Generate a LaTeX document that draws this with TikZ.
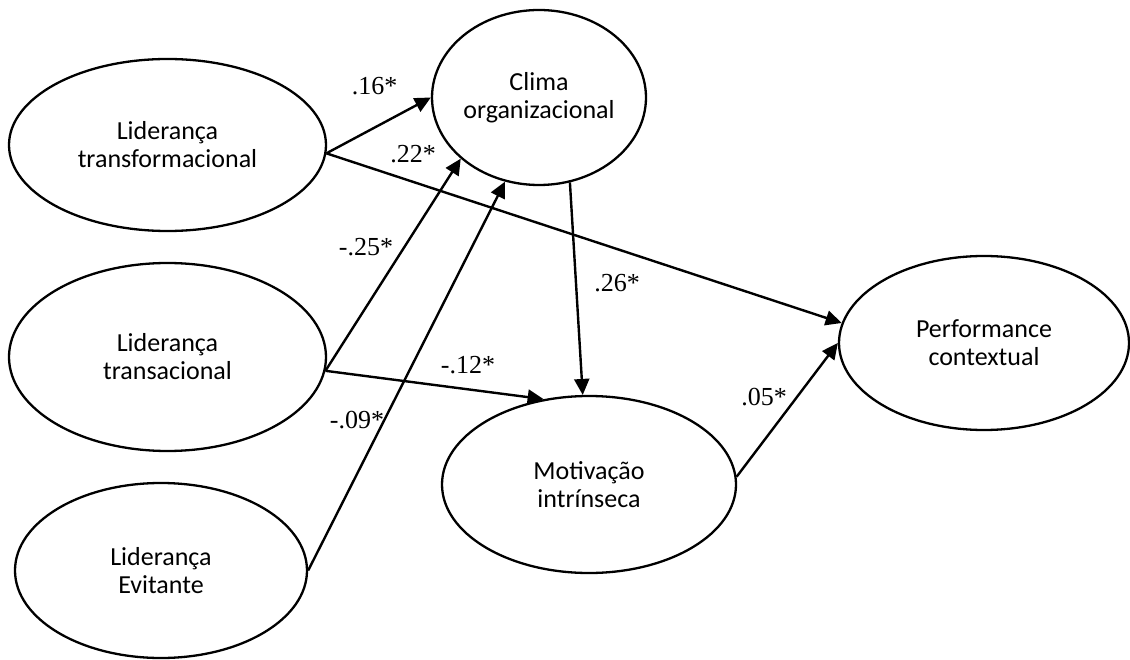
\documentclass[tikz,border=0pt]{standalone}
\usepackage{fontspec}
\setmainfont{Liberation Serif}
\newfontfamily\calibrifont{Carlito}
\usetikzlibrary{shapes.geometric,arrows.meta}
\tikzset{
  construct/.style={ellipse, draw, line width=2.3pt, inner sep=0pt, align=center,
    font=\calibrifont\fontsize{26}{28}\selectfont},
  path/.style={line width=2.4pt, -{Triangle[length=16pt,width=15pt]}},
  coef/.style={font=\fontsize{26}{28}\selectfont, inner sep=0pt}
}
\begin{document}
\begin{tikzpicture}[x=1pt,y=-1pt]
\useasboundingbox (0,0) rectangle (1130,660);
\node[construct, minimum width=317pt, minimum height=172pt] (ltf) at (167.5,145) {Liderança\\transformacional};
\node[construct, minimum width=317pt, minimum height=188pt] (lts) at (167.5,357) {Liderança\\transacional};
\node[construct, minimum width=292pt, minimum height=175pt] (le) at (161,570.5) {Liderança\\Evitante};
\node[construct, minimum width=212pt, minimum height=175pt] (co) at (539,97.5) {Clima\\organizacional};
\node[construct, minimum width=294pt, minimum height=177pt] (mi) at (589,484.5) {Motivação\\intrínseca};
\node[construct, minimum width=290pt, minimum height=174pt] (pc) at (984,343) {Performance\\contextual};

\draw[path] (ltf.-3) -- (co.west);
\draw[path] (ltf.-3) -- (pc.172);
\draw[path] (lts.-5) -- (co.218.6);
\draw[path] (le.east) -- (co.248.8);
\draw[path] (lts.-5) -- (mi.118.7);
\draw[path] (co.-70) -- (mi.94);
\draw[path] (mi.3) -- (pc.west);

\node[coef] (c1) at (374.5,86.5) {.16*};
\node[coef] (c2) at (413,154) {.22*};
\node[coef] (c3) at (366,247.5) {-.25*};
\node[coef] (c4) at (617,283) {.26*};
\node[coef] (c5) at (468,365) {-.12*};
\node[coef] (c6) at (357,420) {-.09*};
\node[coef] (c7) at (764,397.5) {.05*};
\end{tikzpicture}
\end{document}
